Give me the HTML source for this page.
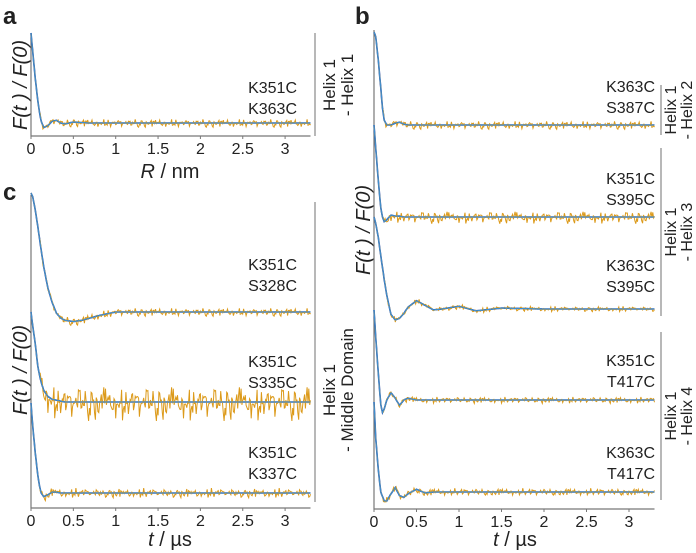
<!DOCTYPE html>
<html><head><meta charset="utf-8"><style>
body{margin:0;background:#fff}
svg{display:block;font-family:"Liberation Sans",sans-serif}
</style></head><body>
<svg id="fig" width="696" height="553" viewBox="0 0 696 553">
<g id="static" fill="#222">
<text x="3" y="24" font-size="24" font-weight="bold">a</text>
<text x="355" y="24" font-size="24" font-weight="bold">b</text>
<text x="3" y="200" font-size="24" font-weight="bold">c</text>
<text transform="translate(27,85) rotate(-90)" text-anchor="middle" font-size="20" font-style="italic">F(t ) / F(0)</text>
<text transform="translate(27,370) rotate(-90)" text-anchor="middle" font-size="20" font-style="italic">F(t ) / F(0)</text>
<text transform="translate(370,230) rotate(-90)" text-anchor="middle" font-size="20" font-style="italic">F(t ) / F(0)</text>
<text x="170" y="178" text-anchor="middle" font-size="20"><tspan font-style="italic">R</tspan> / nm</text>
<text x="170" y="546" text-anchor="middle" font-size="20"><tspan font-style="italic">t</tspan> / µs</text>
<text x="515" y="546" text-anchor="middle" font-size="20"><tspan font-style="italic">t</tspan> / µs</text>
<line x1="315" y1="33" x2="315" y2="136" stroke="#888" stroke-width="1.2"/>
<text transform="translate(335,85) rotate(-90)" text-anchor="middle" font-size="17"><tspan x="0" dy="0">Helix 1</tspan><tspan x="0" dy="18">- Helix 1</tspan></text>
<line x1="315" y1="202" x2="315" y2="502" stroke="#888" stroke-width="1.2"/>
<text transform="translate(335,390) rotate(-90)" text-anchor="middle" font-size="17"><tspan x="0" dy="0">Helix 1</tspan><tspan x="0" dy="18">- Middle Domain</tspan></text>
<line x1="661" y1="85" x2="661" y2="135" stroke="#888" stroke-width="1.2"/>
<text transform="translate(676,110) rotate(-90)" text-anchor="middle" font-size="16"><tspan x="0" dy="0">Helix 1</tspan><tspan x="0" dy="16">- Helix 2</tspan></text>
<line x1="661" y1="148" x2="661" y2="316" stroke="#888" stroke-width="1.2"/>
<text transform="translate(676,232) rotate(-90)" text-anchor="middle" font-size="16"><tspan x="0" dy="0">Helix 1</tspan><tspan x="0" dy="16">- Helix 3</tspan></text>
<line x1="661" y1="332" x2="661" y2="500" stroke="#888" stroke-width="1.2"/>
<text transform="translate(676,416) rotate(-90)" text-anchor="middle" font-size="16"><tspan x="0" dy="0">Helix 1</tspan><tspan x="0" dy="16">- Helix 4</tspan></text>
</g>
<g id="dyn"></g>
</svg>
<script>
var tGrid=[0,0.02,0.05,0.08,0.1,0.12,0.15,0.2,0.25,0.3,0.35,0.4,0.5,0.6,0.7,0.8,1.0,1.2,1.5,2.0,2.5,3.0,3.3];
var tickLabels=["0","0.5","1","1.5","2","2.5","3"];
var tickValues=[0,0.5,1,1.5,2,2.5,3];
var seriesA =[1,0.8,0.5,0.25,0.12,0.02,-0.05,-0.03,0.02,0.03,0.0,-0.01,0.01,0.005,0,0,0,0,0,0,0,0,0];
var seriesC1=[1,0.97,0.86,0.72,0.62,0.52,0.38,0.2,0.08,-0.01,-0.05,-0.07,-0.08,-0.07,-0.05,-0.03,0,0,0,0,0,0,0];
var seriesC2=[1,0.85,0.65,0.4,0.3,0.22,0.13,0.06,0.03,0.02,0.01,0,0,0,0,0,0,0,0,0,0,0,0];
var seriesC3=[1,0.75,0.45,0.2,0.08,0.0,-0.04,-0.02,0.01,0.01,0,0,0,0,0,0,0,0,0,0,0,0,0];
var seriesB1=[1,0.95,0.7,0.4,0.18,0.05,0.0,0.0,0.02,0.03,0.01,0,0,0,0,0,0,0,0,0,0,0,0];
var seriesB2=[1,0.75,0.4,0.1,0.0,-0.05,-0.03,0.02,0.01,0.01,0,0,0,0,0,0,0,0,0,0,0,0,0];
var seriesB3=[1,0.93,0.78,0.58,0.45,0.32,0.15,-0.06,-0.12,-0.1,-0.05,0.02,0.09,0.04,-0.01,0.0,0.03,-0.02,0.01,0,0,0,0];
var seriesB4=[1,0.7,0.3,-0.05,-0.14,-0.1,0.0,0.08,0.02,-0.06,0.0,0.02,0,0,0,0,0,0,0,0,0,0,0];
var seriesB5=[1,0.6,0.25,0.0,-0.05,-0.1,-0.1,-0.02,0.05,-0.04,-0.06,-0.02,0.03,-0.01,0,0,0,0,0,0,0,0,0];
var noise=[0.3,-0.6,0.9,-0.2,0.1,-0.8,0.5,0.2,-0.4,1.0,-0.3,0.0,-0.9,0.6,0.2,-0.5,0.4,-0.1,0.8,-0.7,0.1,0.3,-0.4,0.7,-1.0,0.2,0.5,-0.3,0.0,0.9,-0.6,0.3,-0.2,0.6,-0.8,0.1,0.4,-0.5,0.7,-0.1,-0.3,0.8,-0.9,0.2,0.0,0.5,-0.4,0.3,-0.7,0.9,0.1,-0.2,0.6,-0.6,0.2,-0.9,0.4,0.0,0.7,-0.3,0.5,-0.8,0.1,0.3,-0.5,1.0,-0.2,0.4,-0.1,-0.7,0.6,0.2,-0.4,0.8,-0.6,0.0,0.3,-0.9,0.5,-0.2];
var labelsA=["K351C","K363C"],labelsC1=["K351C","S328C"],labelsC2=["K351C","S335C"],labelsC3=["K351C","K337C"];
var labelsB1=["K363C","S387C"],labelsB2=["K351C","S395C"],labelsB3=["K363C","S395C"],labelsB4=["K351C","T417C"],labelsB5=["K363C","T417C"];

var NS="http://www.w3.org/2000/svg";
var dyn=document.getElementById('dyn');
function mk(tag,attrs){var e=document.createElementNS(NS,tag);for(var k in attrs)e.setAttribute(k,attrs[k]);dyn.appendChild(e);return e;}
function interp(vals,t){for(var i=1;i<tGrid.length;i++){if(t<=tGrid[i]){var f=(t-tGrid[i-1])/(tGrid[i]-tGrid[i-1]);return vals[i-1]+f*(vals[i]-vals[i-1]);}}return vals[vals.length-1];}

function panel(p){
  var xs=function(t){return p.x0+t*p.ppu;};
  var ax=mk('path',{d:'M'+p.x0+' '+p.top+'V'+p.bot+'H'+xs(3.3),fill:'none',stroke:'#777','stroke-width':1.2});
  
  
  for(var i=0;i<tickValues.length;i++){
    var tk=mk('line',{x1:xs(tickValues[i]),x2:xs(tickValues[i]),y1:p.bot,y2:p.bot+3,stroke:'#777'});
    
    
    var tl=mk('text',{x:xs(tickValues[i]),y:p.bot+18,'text-anchor':'middle','font-size':16,fill:'#222'});
    tl.textContent=tickLabels[i];
    
    
  }
  p.series.forEach(function(s,si){
    var ys=function(v){return s.base-v*(s.base-s.start);};
    var f='';
    for(var t2=0,m=0;t2<=3.3;t2+=0.01,m++){f+=(m?'L':'M')+xs(t2).toFixed(1)+' '+ys(interp(s.vals,t2)).toFixed(1);}
    var db=mk('path',{d:f,fill:'none',stroke:'#1d3f9e','stroke-width':1.6});
    
    
    var d='',n=0;
    for(var t=0;t<=3.3;t+=0.01){
      var v=ys(interp(s.vals,t));
      if(t>0.1){v+=noise[(n*7+si*13)%noise.length]*s.na*(0.4+0.8*Math.abs(noise[(n*3+si*5)%noise.length]));}
      d+=(n?'L':'M')+xs(t).toFixed(1)+' '+v.toFixed(1);n++;
    }
    var o=mk('path',{d:d,fill:'none',stroke:'#dc9a1a','stroke-width':1});
    
    
    var fl=mk('path',{d:f,fill:'none',stroke:'#3d8fcf','stroke-width':1.1});
    
    
    for(var j=0;j<2;j++){
      var lt=mk('text',{x:p.lx,y:s.ly+j*21,'text-anchor':'end','font-size':16,fill:'#222'});
      lt.textContent=s.lab[j];
      
      
    }
  });
}
panel({id:'panel-a',x0:31,ppu:84.7,top:33,bot:136,lx:297,series:[
  {vals:seriesA,start:33,base:123,na:4,lab:labelsA,ly:93}]});
panel({id:'panel-c',x0:31,ppu:84.7,top:195,bot:508,lx:297,series:[
  {vals:seriesC1,start:193,base:312,na:4,lab:labelsC1,ly:270},
  {vals:seriesC2,start:312,base:402,na:17,lab:labelsC2,ly:367},
  {vals:seriesC3,start:403,base:493,na:4.5,lab:labelsC3,ly:458}]});
panel({id:'panel-b',x0:374,ppu:85,top:30,bot:509,lx:655,series:[
  {vals:seriesB1,start:32,base:125,na:4,lab:labelsB1,ly:92},
  {vals:seriesB2,start:125,base:217,na:6,lab:labelsB2,ly:184},
  {vals:seriesB3,start:217,base:309,na:2.5,lab:labelsB3,ly:271},
  {vals:seriesB4,start:310,base:400,na:3,lab:labelsB4,ly:366},
  {vals:seriesB5,start:402,base:492,na:3.5,lab:labelsB5,ly:458}]});
</script>
</body></html>
